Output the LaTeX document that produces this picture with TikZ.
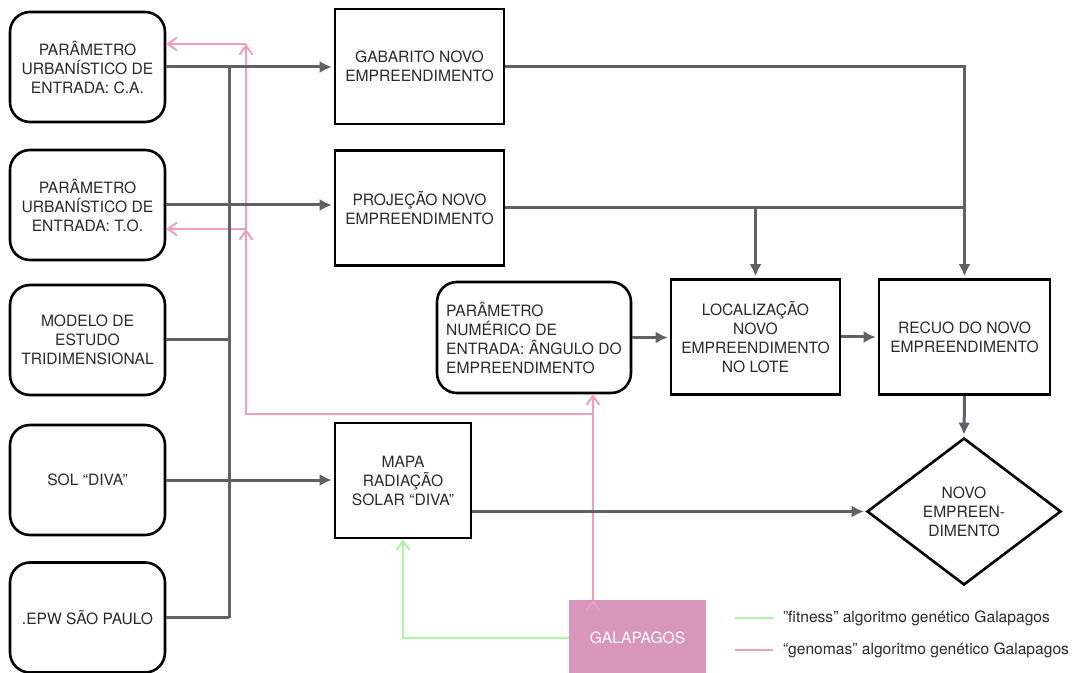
\documentclass[tikz,border=0pt]{standalone}
\usepackage{fontspec}
\setmainfont{TeX Gyre Heros}
\usepackage{tikz}
\usetikzlibrary{arrows.meta,shapes.geometric}

\definecolor{linegray}{HTML}{606066}
\definecolor{genpink}{HTML}{EE9EC2}
\definecolor{fitgreen}{HTML}{AEF2A2}
\definecolor{galfill}{HTML}{D796BA}
\definecolor{txtgray}{HTML}{2A2A2A}

\tikzset{
  base/.style={draw=black, line width=1.3pt, text=txtgray, align=center, inner sep=2pt,
    font=\fontsize{7.8}{9.5}\selectfont},
  inbox/.style={base, rounded corners=10pt, minimum width=77.5pt, minimum height=55pt},
  procbox/.style={base, minimum width=84.5pt, minimum height=57.5pt},
  wire/.style={draw=linegray, line width=1.5pt},
  flow/.style={wire, -{Latex[length=6pt,width=6pt]}, shorten >=1pt},
  genoma/.style={draw=genpink, line width=1pt},
  fitness/.style={draw=fitgreen, line width=1pt},
  barb/.style={-{Straight Barb[length=4.5pt,width=6.5pt]}},
  legend/.style={text=txtgray, inner sep=4.5pt, font=\fontsize{7.8}{9.5}\selectfont}
}

\begin{document}
\begin{tikzpicture}[x=0.5pt, y=-0.5pt]
\useasboundingbox (0,0) rectangle (1091,673);

% entradas
\node[inbox] (paramCA) at (87.5,67) {PARÂMETRO\\URBANÍSTICO DE\\ENTRADA: C.A.};
\node[inbox] (paramTO) at (87.5,205) {PARÂMETRO\\URBANÍSTICO DE\\ENTRADA: T.O.};
\node[inbox] (modelo) at (87.5,340) {MODELO DE\\ESTUDO\\TRIDIMENSIONAL};
\node[inbox] (sol) at (87.5,480) {SOL “DIVA"};
\node[inbox] (epw) at (87.5,617.5) {.EPW SÃO PAULO};

% processos
\node[procbox] (gabarito) at (419.5,66.5) {GABARITO NOVO\\EMPREENDIMENTO};
\node[procbox] (projecao) at (419.5,208) {PROJEÇÃO NOVO\\EMPREENDIMENTO};
\node[base, minimum width=68pt, minimum height=57.5pt] (mapa) at (403,480.5) {MAPA\\RADIAÇÃO\\SOLAR “DIVA"};
\node[base, rounded corners=10pt, align=left, minimum width=97pt, minimum height=55.5pt] (angulo) at (534,337.5)
  {PARÂMETRO\\NUMÉRICO DE\\ENTRADA: ÂNGULO DO\\EMPREENDIMENTO};
\node[procbox] (local) at (755.5,337) {LOCALIZAÇÃO\\NOVO\\EMPREENDIMENTO\\NO LOTE};
\node[procbox, minimum width=85.5pt] (recuo) at (964.5,337) {RECUO DO NOVO\\EMPREENDIMENTO};
\node[base, diamond, inner sep=0pt, minimum width=97pt, minimum height=73.5pt] (novo) at (964,511.5)
  {NOVO\\EMPREEN-\\DIMENTO};
\node[fill=galfill, text=white, minimum width=68.5pt, minimum height=37.5pt,
  font=\fontsize{7.8}{9.5}\selectfont] (galapagos) at (637.5,637.5) {GALAPAGOS};

% genomas
\coordinate (genTop) at (246,44);
\coordinate (genTO) at (246,229);
\coordinate (genCorner) at (246,414);
\coordinate (genUp) at (593,414);
\draw[genoma] (genTop) -- (genCorner) -- (genUp);
\path[genoma, barb] (genTop) edge (genTop -| paramCA.east);
\path[genoma, barb] (genTO) edge (genTO -| paramTO.east);
\path[genoma, barb] (galapagos.north -| genUp) edge (angulo.south -| genUp);

% fitness
\draw[fitness, barb] (galapagos.west) -| (mapa.south);

% barramento das entradas
\coordinate (bus) at (229,0);
\draw[wire] (paramCA.east -| bus) -- (epw.east -| bus);
\draw[wire] (modelo.east) -- (modelo.east -| bus);
\draw[wire] (epw.east) -- (epw.east -| bus);
\draw[flow] (paramCA.east) -- (paramCA.east -| gabarito.west);
\draw[flow] (paramTO.east) -- (paramTO.east -| projecao.west);
\draw[flow] (sol.east) -- (sol.east -| mapa.west);

\draw[flow] (gabarito.east) -| (recuo.north);
\draw[wire] (projecao.east) -- (projecao.east -| recuo.north);
\draw[flow] (projecao.east -| local.north) -- (local.north);
\draw[flow] (angulo.east) -- (angulo.east -| local.west);
\draw[flow] (local.east) -- (local.east -| recuo.west);
\draw[flow] (recuo.south) -- (novo.north);
\draw[flow] (mapa.east |- novo.west) -- (novo.west);

% legenda
\coordinate (legFit) at (735,618);
\coordinate (legGen) at (735,650);
\draw[fitness] (legFit) -- ++(38,0) node[legend, right] (legFitTxt) {"fitness" algoritmo genético Galapagos};
\draw[genoma] (legGen) -- ++(38,0) node[legend, right] (legGenTxt) {“genomas” algoritmo genético Galapagos};

\end{tikzpicture}
\end{document}
